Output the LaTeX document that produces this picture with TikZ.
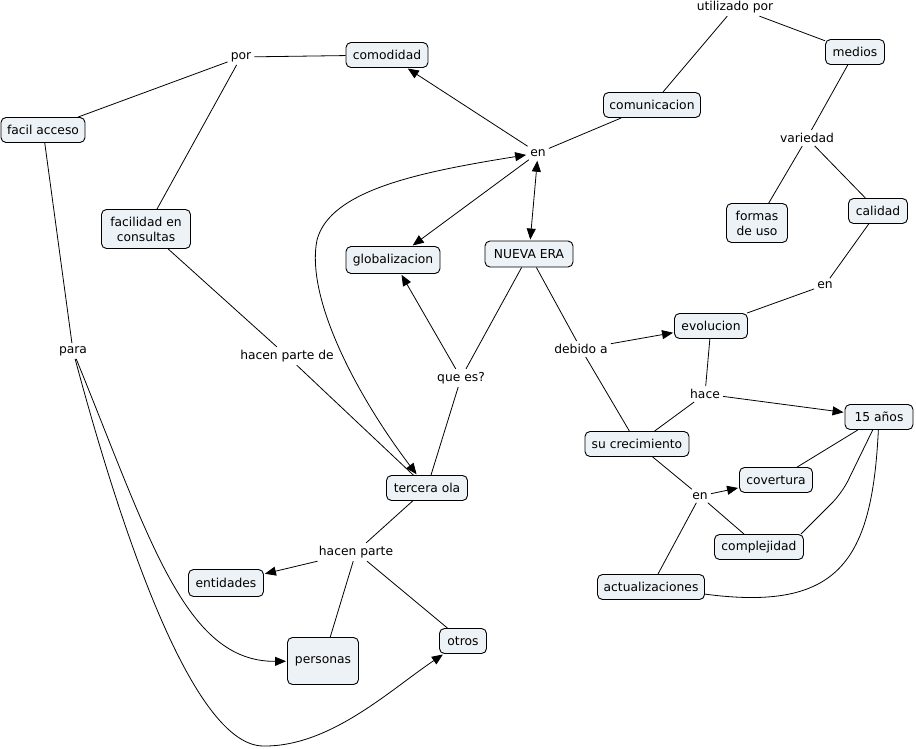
\documentclass[tikz,border=0pt]{standalone}
\usepackage{fontspec}
\setmainfont{DejaVu Sans}
\usetikzlibrary{arrows.meta}
\definecolor{boxfill}{RGB}{236,242,245}
\begin{document}
\begin{tikzpicture}[x=1pt,y=-1pt,
 concept/.style={draw=black, fill=boxfill, rounded corners=5pt, line width=0.9pt, inner xsep=5pt, inner ysep=2pt, minimum height=25pt, align=center, font=\fontsize{12.3}{15}\selectfont},
 link/.style={inner sep=3pt, font=\fontsize{12.3}{15}\selectfont},
 conn/.style={line width=0.8pt, draw=black},
 arr/.style={conn, -{Triangle[length=11pt,width=9pt]}, shorten >=1pt},
 darr/.style={conn, {Triangle[length=11pt,width=9pt]}-{Triangle[length=11pt,width=9pt]}, shorten >=1pt, shorten <=1pt}]
\useasboundingbox (0,0) rectangle (916,749);

% concepts
\node[concept, minimum width=82pt] (comodidad) at (387,55) {comodidad};
\node[concept, minimum width=84pt] (facil) at (43,130) {facil acceso};
\node[concept, minimum width=89pt, minimum height=39pt] (facilidad) at (146,229) {facilidad en\\consultas};
\node[concept, minimum width=97pt] (comunic) at (652,105) {comunicacion};
\node[concept, minimum width=59pt] (medios) at (855,52) {medios};
\node[concept, minimum width=61pt, minimum height=39pt] (formas) at (757,223) {formas\\de uso};
\node[concept, minimum width=59pt] (calidad) at (878,211) {calidad};
\node[concept, minimum width=94pt, minimum height=27pt] (global) at (393,260) {globalizacion};
\node[concept, minimum width=88pt, minimum height=26pt] (nueva) at (529,254) {NUEVA ERA};
\node[concept, minimum width=73pt] (evol) at (711,326) {evolucion};
\node[concept, minimum width=68pt] (anos) at (879,417) {15 años};
\node[concept, minimum width=104pt] (crec) at (637,444) {su crecimiento};
\node[concept, minimum width=73pt] (cover) at (776,480) {covertura};
\node[concept, minimum width=89pt] (complej) at (759,547) {complejidad};
\node[concept, minimum width=107pt] (actual) at (651,587) {actualizaciones};
\node[concept, minimum width=81pt] (tercera) at (427,488) {tercera ola};
\node[concept, minimum width=75pt, minimum height=27pt] (entid) at (226,583) {entidades};
\node[concept, minimum width=71pt, minimum height=47pt] (personas) at (323,661) {personas};
\node[concept, minimum width=47pt] (otros) at (463,641) {otros};

% linking phrases
\node[link] (lpor) at (241,57) {por};
\node[link] (lutil) at (735,7) {utilizado por};
\node[link] (len1) at (538,153) {en};
\node[link] (lvar) at (807,138) {variedad};
\node[link] (len2) at (825,285) {en};
\node[link] (ldeb) at (581,349) {debido a};
\node[link] (lhace) at (705,394) {hace};
\node[link] (len3) at (700,496) {en};
\node[link] (lhpd) at (287,356) {hacen parte de};
\node[link] (lque) at (461,378) {que es?};
\node[link] (lpara) at (73,351) {para};
\node[link] (lhp) at (356,552) {hacen parte};

% connectors
\draw[conn] (facil) -- (lpor);
\draw[conn] (facilidad) -- (lpor);
\draw[conn] (lpor) -- (comodidad);
\draw[arr] (len1) -- (comodidad);
\draw[conn] (comunic) -- (len1);
\draw[arr] (len1) -- (global);
\draw[darr] (len1) -- (nueva);
\draw[darr] (len1) .. controls (420,172) and (330,190) .. (317,240) .. controls (305,300) and (360,400) .. (tercera);

\draw[conn] (nueva) -- (lque);
\draw[arr] (lque) -- (global);
\draw[conn] (tercera) -- (lque);
\draw[conn] (nueva) -- (ldeb);
\draw[arr] (ldeb) -- (evol);
\draw[conn] (crec) -- (ldeb);

\draw[conn] (lutil) -- (comunic);
\draw[conn] (lutil) -- (medios);
\draw[conn] (medios) -- (lvar);
\draw[conn] (lvar) -- (formas);
\draw[conn] (lvar) -- (calidad);
\draw[conn] (calidad) -- (len2);
\draw[conn] (len2) -- (evol);
\draw[conn] (evol) -- (lhace);
\draw[arr] (lhace) -- (anos);
\draw[conn] (crec) -- (lhace);
\draw[conn] (crec) -- (len3);
\draw[arr] (len3) -- (cover);
\draw[conn] (len3) -- (complej);
\draw[conn] (actual) -- (len3);
\draw[conn] (anos) -- (cover);
\draw[conn, rounded corners=14pt] (anos) -- (842,493) -- ([xshift=-3pt]complej.north east);
\draw[conn] (anos) .. controls (872,560) and (840,612) .. (actual);

\draw[conn] (facilidad) -- (lhpd);
\draw[conn] (lhpd) -- (tercera);
\draw[conn] (facil) -- (lpara);
\draw[arr] (lpara) .. controls (150,540) and (185,662) .. (personas);
\draw[arr] (lpara) .. controls (125,545) and (195,745) .. (263,746) .. controls (330,747) and (390,690) .. (otros);

\draw[conn] (tercera) -- (lhp);
\draw[arr] (lhp) -- (entid);
\draw[conn] (lhp) -- (personas);
\draw[conn] (lhp) -- (otros);
\end{tikzpicture}
\end{document}
